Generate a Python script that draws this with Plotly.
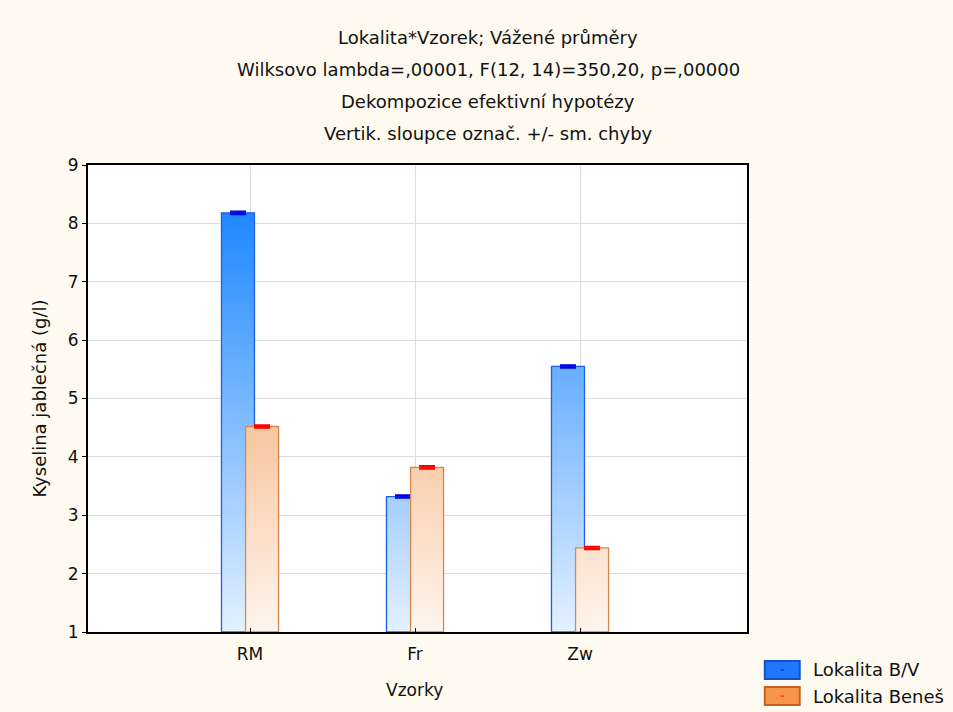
"""
Lokalita*Vzorek - weighted means of malic acid per sample, STATISTICA style.
"""

import plotly.graph_objects as go

# data
SAMPLES = ['RM', 'Fr', 'Zw']
BV_MEANS = [8.18, 3.32, 5.55]
BENES_MEANS = [4.52, 3.82, 2.44]
BV_SE = [0.02, 0.02, 0.02]
BENES_SE = [0.02, 0.02, 0.02]
Y_TICKS = [1, 2, 3, 4, 5, 6, 7, 8, 9]
TITLE_LINES = [
    'Lokalita*Vzorek; Vážené průměry',
    'Wilksovo lambda=,00001, F(12, 14)=350,20, p=,00000',
    'Dekompozice efektivní hypotézy',
    'Vertik. sloupce označ. +/- sm. chyby',
]
SERIES_NAMES = ['Lokalita B/V', 'Lokalita Beneš']

FONT = 'DejaVu Sans, Arial, sans-serif'
BG = '#FEFAF0'
TXT = '#111111'
BASE = Y_TICKS[0]
BAR_W = 0.2
SHIFT = 0.073

xpos = list(range(1, len(SAMPLES) + 1))


def bar_outline(centres, values):
    xs, ys = [], []
    for c, v in zip(centres, values):
        x0, x1 = c - BAR_W / 2, c + BAR_W / 2
        xs += [x0, x1, x1, x0, x0, None]
        ys += [BASE, BASE, v, v, BASE, None]
    return xs, ys


series = [
    dict(vals=BV_MEANS, se=BV_SE, shift=-SHIFT, line='#1F5FE0', cap='#0000EE',
         scale=[[0, '#E4F1FF'], [1, '#1884FF']], stop=8.4),
    dict(vals=BENES_MEANS, se=BENES_SE, shift=SHIFT, line='#D4884E', cap='#FF0000',
         scale=[[0, '#FFF5EE'], [1, '#F7C59C']], stop=4.6),
]

fig = go.Figure()

for name, s in zip(SERIES_NAMES, series):
    centres = [x + s['shift'] for x in xpos]
    xs, ys = bar_outline(centres, s['vals'])
    fig.add_trace(go.Scatter(
        x=xs, y=ys, mode='lines', fill='toself',
        fillgradient=dict(type='vertical', colorscale=s['scale'],
                          start=BASE, stop=s['stop']),
        line=dict(color=s['line'], width=1.3),
        name=name, showlegend=False, hoverinfo='skip',
    ))
    fig.add_trace(go.Scatter(
        x=centres, y=s['vals'], mode='markers',
        marker=dict(size=1, color='rgba(0,0,0,0)'),
        error_y=dict(type='data', array=s['se'], color=s['cap'],
                     thickness=2.2, width=8),
        name=name, showlegend=False,
        hovertemplate=name + ': %{y:.2f}<extra></extra>',
    ))

# title lines
for i, line in enumerate(TITLE_LINES):
    fig.add_annotation(
        x=0.607, y=1.272 - i * 0.068, xref='paper', yref='paper',
        text=line, showarrow=False, xanchor='center', yanchor='middle',
        font=dict(size=18, color=TXT, family=FONT),
    )

# axis titles
fig.add_annotation(
    x=-0.073, y=0.5, xref='paper', yref='paper', text='Kyselina jablečná (g/l)',
    textangle=-90, showarrow=False, xanchor='center', yanchor='middle',
    font=dict(size=18, color=TXT, family=FONT),
)
fig.add_annotation(
    x=0.496, y=-0.124, xref='paper', yref='paper', text='Vzorky',
    showarrow=False, xanchor='center', yanchor='middle',
    font=dict(size=17, color=TXT, family=FONT),
)

# legend box drawn by hand (STATISTICA swatches are wide)
legend_fill = ['#1E78FF', '#F79648']
legend_edge = ['#1450C8', '#C86020']
legend_dash = ['#0000FF', '#FF0000']
for i, name in enumerate(SERIES_NAMES):
    y_top = -0.062 - i * 0.056
    y_bot = y_top - 0.0385
    fig.add_shape(type='rect', xref='paper', yref='paper',
                  x0=1.027, x1=1.080, y0=y_bot, y1=y_top,
                  fillcolor=legend_fill[i], line=dict(color=legend_edge[i], width=2))
    fig.add_shape(type='line', xref='paper', yref='paper',
                  x0=1.051, x1=1.056, y0=(y_top + y_bot) / 2, y1=(y_top + y_bot) / 2,
                  line=dict(color=legend_dash[i], width=1))
    fig.add_annotation(
        x=1.097, y=(y_top + y_bot) / 2, xref='paper', yref='paper', text=name,
        showarrow=False, xanchor='left', yanchor='middle',
        font=dict(size=18, color=TXT, family=FONT),
    )

fig.update_xaxes(
    range=[0.018, 4.012], tickvals=xpos, ticktext=SAMPLES,
    showgrid=True, gridcolor='#DCDCDC', gridwidth=1,
    showline=True, linecolor='#000000', linewidth=2, mirror=True,
    ticks='inside', ticklen=4, tickcolor='#000000', ticklabelstandoff=6,
    tickfont=dict(size=17, color=TXT, family=FONT),
    zeroline=False, fixedrange=True,
)
fig.update_yaxes(
    range=[Y_TICKS[0], Y_TICKS[-1]], tickvals=Y_TICKS,
    showgrid=True, gridcolor='#DCDCDC', gridwidth=1,
    showline=True, linecolor='#000000', linewidth=2, mirror=True,
    ticks='outside', ticklen=4, tickcolor='#000000',
    tickfont=dict(size=17, color=TXT, family=FONT),
    zeroline=False, fixedrange=True,
)
fig.update_layout(
    width=953, height=712,
    paper_bgcolor=BG, plot_bgcolor='#FFFFFF',
    margin=dict(l=88, r=206, t=165, b=80),
    font=dict(family=FONT),
    showlegend=False,
)

fig.write_html(
    "out.html",
    config={'displayModeBar': False},
    post_script="document.body.style.margin='0';document.body.style.background='" + BG + "';",
)
